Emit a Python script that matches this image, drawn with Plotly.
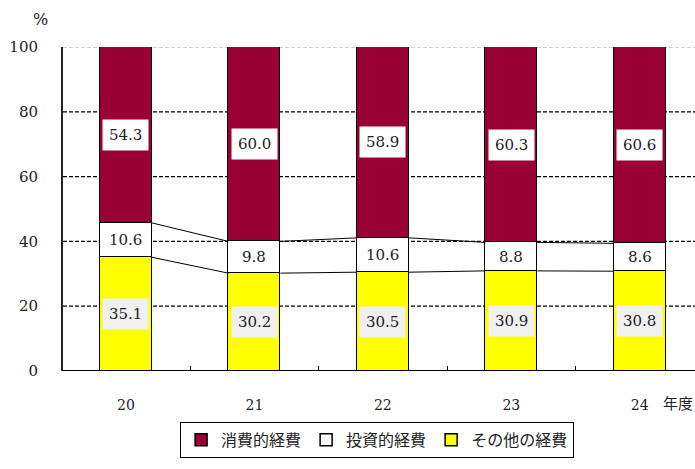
import plotly.graph_objects as go

# Fiscal years and expenditure composition (%)
years = ["20", "21", "22", "23", "24"]
consumption = [54.3, 60.0, 58.9, 60.3, 60.6]   # 消費的経費
investment = [10.6, 9.8, 10.6, 8.8, 8.6]       # 投資的経費
other = [35.1, 30.2, 30.5, 30.9, 30.8]         # その他の経費
y_ticks = [0, 20, 40, 60, 80, 100]

RED = "#990033"
YELLOW = "#FFFF00"
SERIF = "DejaVu Serif"
JP = "Noto Sans CJK JP"
BAR_W = 0.405

xs = list(range(len(years)))

fig = go.Figure()

series = [
    ("その他の経費", other, YELLOW, 3),
    ("投資的経費", investment, "#FFFFFF", 2),
    ("消費的経費", consumption, RED, 1),
]
for name, vals, color, rank in series:
    fig.add_trace(go.Bar(
        x=xs, y=vals, name=name, width=BAR_W,
        marker=dict(color=color, line=dict(color="#000000", width=1.5)),
        legendrank=rank, hoverinfo="skip",
    ))

# Connector lines between adjacent bars at segment boundaries
bound1 = other
bound2 = [o + i for o, i in zip(other, investment)]
for bound in (bound1, bound2):
    lx, ly = [], []
    for k in range(len(xs) - 1):
        lx += [xs[k] + BAR_W / 2, xs[k + 1] - BAR_W / 2, None]
        ly += [bound[k], bound[k + 1], None]
    fig.add_trace(go.Scatter(x=lx, y=ly, mode="lines",
                             line=dict(color="#000000", width=1),
                             showlegend=False, hoverinfo="skip"))

# Value labels centred in each segment
annotations = []
for k, x in enumerate(xs):
    base = 0
    for vals, bg, pad in ((other, "#F0F0F0", 6), (investment, "#FFFFFF", 1),
                          (consumption, "#FFFFFF", 6)):
        v = vals[k]
        annotations.append(dict(
            x=x, y=base + v / 2, xref="x", yref="y", text=f"{v:.1f}",
            showarrow=False, bgcolor=bg, borderpad=pad,
            font=dict(family=SERIF, size=15, color="#222222"),
        ))
        base += v

annotations.append(dict(x=-0.035, y=1.05, xref="paper", yref="paper", text="%",
                        showarrow=False, xanchor="center", yanchor="bottom",
                        font=dict(family=SERIF, size=16, color="#222222")))
annotations.append(dict(x=4.30, y=0, xref="x", yref="paper", text="年度",
                        showarrow=False, xanchor="center", yanchor="middle", yshift=-31,
                        font=dict(family=JP, size=15, color="#222222")))

# Horizontal dashed gridlines; the top one is grey
shapes = []
for t in y_ticks[1:]:
    shapes.append(dict(type="line", xref="paper", yref="y", x0=0, x1=1, y0=t, y1=t,
                       layer="below",
                       line=dict(color="#A0A0A0" if t == 100 else "#000000",
                                 width=1.2, dash="4px,2px")))

fig.update_layout(
    width=695, height=469,
    margin=dict(l=63, r=0, t=47, b=98),
    paper_bgcolor="#FFFFFF", plot_bgcolor="#FFFFFF",
    barmode="stack", bargap=0,
    shapes=shapes, annotations=annotations,
    showlegend=True,
    legend=dict(orientation="h", x=0.497, xanchor="center", y=-0.157, yanchor="top",
                traceorder="normal",
                bordercolor="#000000", borderwidth=1, bgcolor="#FFFFFF",
                font=dict(family=JP, size=16, color="#222222"),
                itemwidth=30, tracegroupgap=0),
    xaxis=dict(range=[-0.49, 4.43], tickvals=xs, ticktext=years, ticks="",
               showgrid=False, zeroline=False, showline=False,
               ticklabelstandoff=24,
               tickfont=dict(family=SERIF, size=14, color="#222222"),
               minor=dict(tickvals=[0.5, 1.5, 2.5, 3.5], ticks="inside", ticklen=5,
                          tickcolor="#000000", tickwidth=1, showgrid=False)),
    yaxis=dict(range=[0, 100], tickvals=y_ticks, ticks="", showgrid=False,
               zeroline=False, showline=True, linecolor="#222222", linewidth=2,
               ticklabelstandoff=20,
               tickfont=dict(family=SERIF, size=15, color="#222222")),
)

# Bottom axis line
fig.add_shape(type="line", xref="paper", yref="y", x0=0, x1=1, y0=0, y1=0,
              line=dict(color="#000000", width=2))

fig.write_html("out.html")
